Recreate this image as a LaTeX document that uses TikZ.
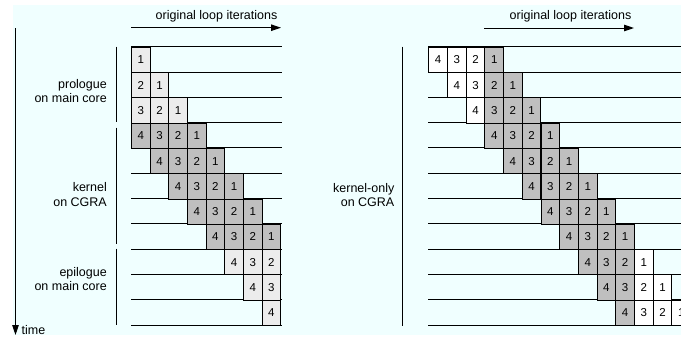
\documentclass[tikz,border=0pt]{standalone}
\usepackage{fontspec}
\setmainfont{Liberation Sans}
\usetikzlibrary{arrows.meta, positioning}
\definecolor{bgcyan}{RGB}{240,255,255}
\definecolor{kgray}{RGB}{191,191,191}
\definecolor{pgray}{RGB}{236,236,236}
\tikzstyle{cell} = [rectangle, draw=black, line width=1pt, minimum width=18.65pt, minimum height=25.3pt, inner sep=0pt, anchor=north west, font=\fontsize{11.5}{12}\selectfont]
\tikzstyle{pcell} = [cell, fill=pgray]
\tikzstyle{kcell} = [cell, fill=kgray]
\tikzstyle{wcell} = [cell, fill=white]
\tikzstyle{phase} = [align=right, anchor=east, inner sep=0pt, font=\fontsize{12.5}{14.5}\selectfont]
\tikzstyle{axislabel} = [inner sep=0pt, font=\fontsize{12.5}{14.5}\selectfont]
\tikzstyle{arrow} = [line width=1pt, -{Triangle[length=10pt,width=6.5pt]}]
\tikzstyle{rowline} = [line width=1pt]

\begin{document}
\begin{tikzpicture}[x=1pt, y=-1pt]
  \useasboundingbox (0,0) rectangle (681,341);
  \fill[bgcyan] (13,5) rectangle (681,335);

  % time axis and iteration arrows
  \coordinate (t0) at (15.5,28);
  \coordinate (t1) at (15.5,335);
  \draw[arrow] (t0) -- (t1);
  \node[axislabel, anchor=base west] (time) at (21.5,334) {time};
  \coordinate (itL0) at (131,27.7);
  \coordinate (itL1) at (281,27.7);
  \draw[arrow] (itL0) -- (itL1);
  \node[axislabel, anchor=base east] (iterL) at (277.5,19.5) {original loop iterations};
  \coordinate (itR0) at (484.3,28);
  \coordinate (itR1) at (634,28);
  \draw[arrow] (itR0) -- (itR1);
  \node[axislabel, anchor=base east] (iterR) at (631.5,19.5) {original loop iterations};

  % phase brackets and labels
  \draw[rowline] (116.3,46.7) -- (116.3,121.7);
  \draw[rowline] (116.3,127.7) -- (116.3,244.3);
  \draw[rowline] (116.3,248.7) -- (116.3,325);
  \draw[rowline] (402.7,46.7) -- (402.7,325.7);
  \node[phase] (pro) at (107,91.2) {prologue\\on main core};
  \node[phase] (ker) at (107,194.7) {kernel\\on CGRA};
  \node[phase] (epi) at (107,279) {epilogue\\on main core};
  \node[phase] (konly) at (394.5,195) {kernel-only\\on CGRA};

  % row lines
  \foreach \k in {0,...,11} {
    \draw[rowline] (131,46.7+25.3*\k) -- (282,46.7+25.3*\k);
    \draw[rowline] (428.3,46.7+25.3*\k) -- (681,46.7+25.3*\k);
  }

  % left schedule: prologue, kernel, epilogue
  \foreach \r/\s in {0/pcell,1/pcell,2/pcell,3/kcell,4/kcell,5/kcell,6/kcell,7/kcell,8/pcell,9/pcell,10/pcell}
    \foreach \j in {0,...,3} {
      \pgfmathtruncatemacro\c{\r-3+\j}
      \pgfmathtruncatemacro\n{4-\j}
      \ifnum\c>-1 \ifnum\c<8
        \node[\s] (L-\r-\j) at (131+18.65*\c,46.7+25.3*\r) {\n};
      \fi\fi
    }

  % right schedule: kernel only
  \begin{scope}
    \clip (0,0) rectangle (681,341);
    \foreach \r in {0,...,10}
      \foreach \j in {0,...,3} {
        \pgfmathtruncatemacro\c{\r+\j}
        \pgfmathtruncatemacro\n{4-\j}
        \def\s{wcell}
        \ifnum\c>2 \ifnum\c<11 \def\s{kcell}\fi\fi
        \node[\s] (R-\r-\j) at (428.3+18.7*\c,46.7+25.3*\r) {\n};
      }
  \end{scope}
\end{tikzpicture}
\end{document}
